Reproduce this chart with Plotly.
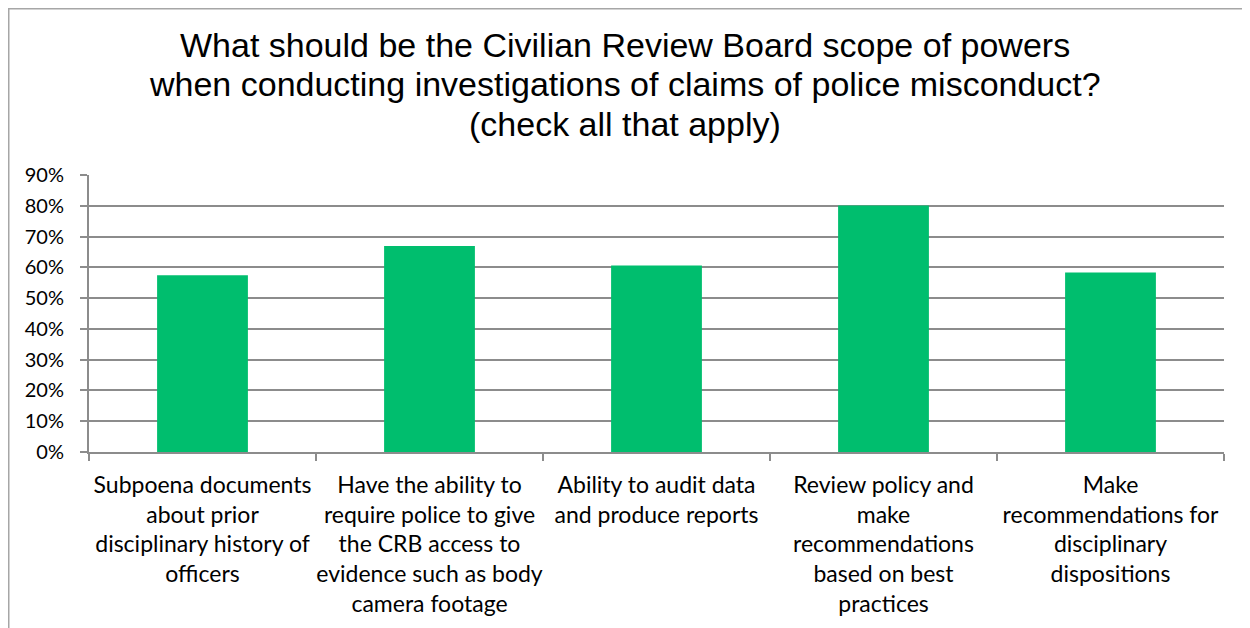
import plotly.graph_objects as go

categories = [
    "Subpoena documents<br>about prior<br>disciplinary history of<br>officers",
    "Have the ability to<br>require police to give<br>the CRB access to<br>evidence such as body<br>camera footage",
    "Ability to audit data<br>and produce reports",
    "Review policy and<br>make<br>recommendations<br>based on best<br>practices",
    "Make<br>recommendations for<br>disciplinary<br>dispositions",
]
values = [0.574, 0.669, 0.606, 0.801, 0.583]
y_ticks = [0, 0.1, 0.2, 0.3, 0.4, 0.5, 0.6, 0.7, 0.8, 0.9]
y_tick_labels = ["0%", "10%", "20%", "30%", "40%", "50%", "60%", "70%", "80%", "90%"]
title_lines = [
    "What should be the Civilian Review Board scope of powers",
    "when conducting investigations of claims of police misconduct?",
    "(check all that apply)",
]

W, H = 1250, 628
L, R, T, B = 81, 34, 167, 184
pw, ph = W - L - R, H - T - B


def px_x(x):
    return (x - L) / pw


def px_y(y):
    return (H - B - y) / ph


fig = go.Figure(go.Bar(x=categories, y=values, marker=dict(color="#00BE6E", line=dict(width=0)), width=0.4))

title_y = [37, 76, 116]
annotations = [
    dict(text=t, x=px_x(617), y=px_y(yy), xref="paper", yref="paper",
         xanchor="center", yanchor="middle", showarrow=False,
         font=dict(family="Liberation Sans, Arial", size=34, color="#000000"))
    for t, yy in zip(title_lines, title_y)
]

fig.update_layout(
    width=W, height=H,
    margin=dict(l=L, r=R, t=T, b=B, pad=0, autoexpand=False),
    paper_bgcolor="white", plot_bgcolor="white",
    showlegend=False,
    bargap=0.6,
    font=dict(family="Lato", color="#000000"),
    annotations=annotations,
    xaxis=dict(
        type="category", showgrid=False, showline=True, linecolor="#8c8c8c", linewidth=2,
        ticks="outside", tickson="boundaries", ticklen=7, tickcolor="#8c8c8c", tickwidth=2,
        tickfont=dict(family="Lato", size=23, color="#000000"), tickangle=0,
        ticklabelstandoff=11, automargin=False,
    ),
    yaxis=dict(
        range=[0, 0.9], tickvals=y_ticks, ticktext=y_tick_labels,
        showgrid=True, gridcolor="#8c8c8c", gridwidth=2,
        showline=True, linecolor="#8c8c8c", linewidth=2,
        ticks="outside", ticklen=7, tickcolor="#8c8c8c", tickwidth=2,
        tickfont=dict(family="Lato", size=20, color="#000000"),
        ticklabelstandoff=12, zeroline=False, automargin=False,
    ),
    shapes=[dict(type="rect", xref="paper", yref="paper",
                 x0=px_x(0.75), x1=px_x(W + 20),
                 y0=px_y(H + 20), y1=px_y(0.75),
                 line=dict(color="#a6a6a6", width=1.5), fillcolor="rgba(0,0,0,0)", layer="below")],
)

fig.write_html("out.html")
